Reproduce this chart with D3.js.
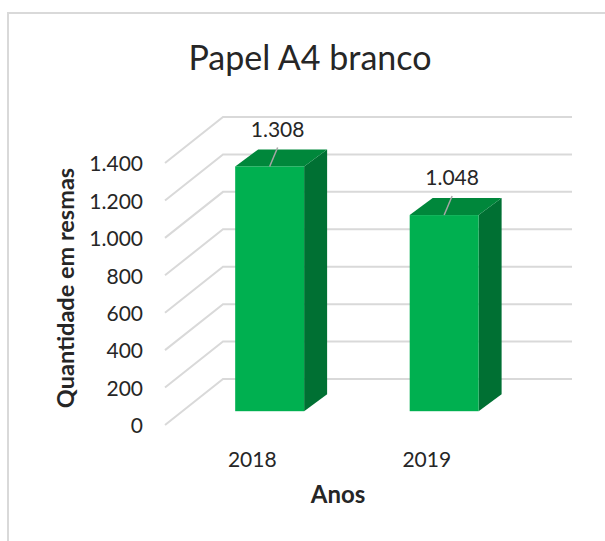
<!DOCTYPE html>
<html><head><meta charset="utf-8">
<script src="https://cdn.jsdelivr.net/npm/d3@7"></script>
<style>
html,body{margin:0;padding:0;background:#fff;}
svg{display:block;font-family:Lato,"Open Sans",sans-serif;}
</style></head>
<body><svg id="c" width="605" height="541"></svg>
<script>
const title = "Papel A4 branco";
const categories = ["2018", "2019"];
const values = [1308, 1048];
const valueLabels = ["1.308", "1.048"];
const yTicks = [0, 200, 400, 600, 800, 1000, 1200, 1400];
const yTickLabels = ["0", "200", "400", "600", "800", "1.000", "1.200", "1.400"];
const yTitle = "Quantidade em resmas";
const xTitle = "Anos";

const svg = d3.select("#c");
// chart border
svg.append("rect").attr("x", 8).attr("y", 13).attr("width", 620).attr("height", 560)
  .attr("fill", "#fff").attr("stroke", "#d9d9d9").attr("stroke-width", 2);

// 3D geometry
const depth = {dx: 58, dy: -46};          // front plane -> back wall
const barOff = 0.30, barDepth = {dx: 23, dy: -17};
const x = d3.scaleBand().domain(categories).range([165, 514]).padding(0);
const y = d3.scaleLinear().domain([0, 1400]).range([425, 163]);
const barW = x.bandwidth() * 0.395;
const gridRight = 572;

const grid = svg.append("g");
yTicks.forEach(t => {
  const fy = y(t);
  grid.append("path")
    .attr("d", `M${165},${fy} L${165 + depth.dx},${fy + depth.dy} L${gridRight},${fy + depth.dy}`)
    .attr("fill", "none").attr("stroke", "#d9d9d9").attr("stroke-width", 2);
});

// tick labels
svg.append("g").selectAll("text").data(yTicks).join("text")
  .attr("x", 143).attr("y", d => y(d) + 1).attr("dy", "0.35em")
  .attr("text-anchor", "end").attr("font-size", 21).attr("fill", "#262626")
  .text((d, i) => yTickLabels[i]);

// bars
const bars = svg.append("g");
categories.forEach((c, i) => {
  const cx = x(c) + x.bandwidth() / 2;
  const x0 = cx - barW / 2 + barOff * depth.dx;
  const x1 = x0 + barW;
  const yb = y(0) + barOff * depth.dy;
  const yt = y(values[i]) + barOff * depth.dy;
  const ddx = barDepth.dx, ddy = barDepth.dy;
  // side
  bars.append("path").attr("d", `M${x1},${yt} L${x1 + ddx},${yt + ddy} L${x1 + ddx},${yb + ddy} L${x1},${yb} Z`)
    .attr("fill", "#007033");
  // top
  bars.append("path").attr("d", `M${x0},${yt} L${x0 + ddx},${yt + ddy} L${x1 + ddx},${yt + ddy} L${x1},${yt} Z`)
    .attr("fill", "#00873b");
  // front
  bars.append("rect").attr("x", x0).attr("y", yt).attr("width", barW).attr("height", yb - yt)
    .attr("fill", "#00b050");
  // leader + label
  const fcx = (x0 + x1) / 2;
  bars.append("line").attr("x1", fcx).attr("y1", yt).attr("x2", fcx + 8).attr("y2", yt - 19)
    .attr("stroke", "#a6a6a6").attr("stroke-width", 1.5);
  bars.append("text").attr("x", fcx + 8).attr("y", yt - 37).attr("dy", "0.35em")
    .attr("text-anchor", "middle").attr("font-size", 21).attr("fill", "#262626")
    .text(valueLabels[i]);
  // category label
  svg.append("text").attr("x", cx).attr("y", 460).attr("dy", "0.35em")
    .attr("text-anchor", "middle").attr("font-size", 21).attr("fill", "#262626").text(c);
});

// titles
svg.append("text").attr("x", 310).attr("y", 58).attr("dy", "0.35em").attr("text-anchor", "middle")
  .attr("font-size", 34).attr("fill", "#262626").text(title);
svg.append("text").attr("transform", "translate(66,288) rotate(-90)").attr("dy", "0.35em")
  .attr("text-anchor", "middle").attr("font-size", 23.5).attr("font-weight", "bold").attr("fill", "#262626").text(yTitle);
svg.append("text").attr("x", 338).attr("y", 495).attr("dy", "0.35em").attr("text-anchor", "middle")
  .attr("font-size", 24).attr("font-weight", "bold").attr("fill", "#262626").text(xTitle);
</script></body></html>
